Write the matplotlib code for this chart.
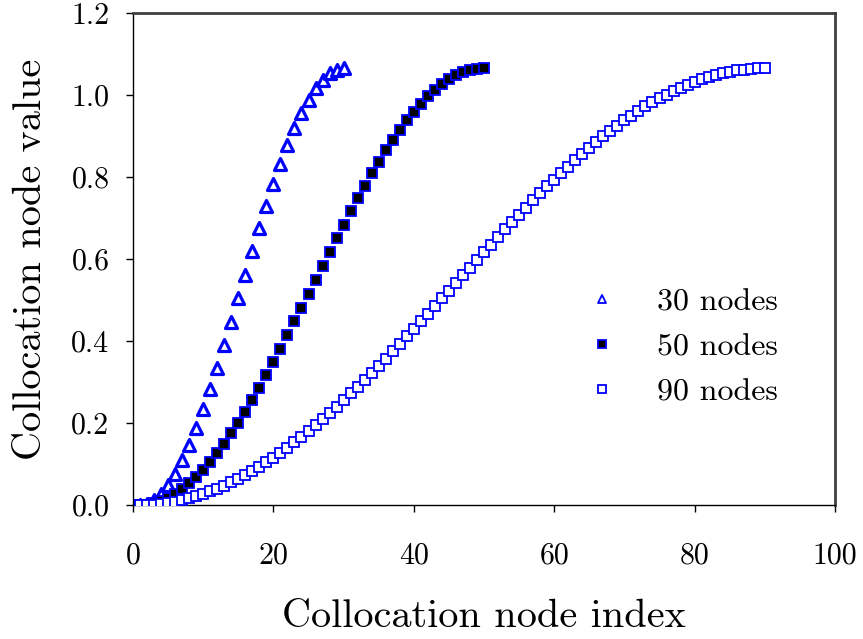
import matplotlib
matplotlib.use("Agg")
import matplotlib.pyplot as plt
from matplotlib.markers import MarkerStyle

plt.rcParams['font.family'] = ['cmr10', 'DejaVu Serif']
plt.rcParams['mathtext.fontset'] = 'cm'
plt.rcParams['axes.formatter.use_mathtext'] = True

# ---- data ----
nodes30_y = [0.000, 0.003, 0.012, 0.028, 0.049, 0.076, 0.109, 0.146, 0.188, 0.234,
             0.283, 0.335, 0.390, 0.446, 0.504, 0.561, 0.619, 0.675, 0.730, 0.782,
             0.831, 0.877, 0.919, 0.956, 0.989, 1.016, 1.037, 1.053, 1.062, 1.065]

nodes50_y = [0.000, 0.001, 0.004, 0.010, 0.017, 0.027, 0.039, 0.053, 0.069, 0.086,
             0.106, 0.127, 0.150, 0.175, 0.201, 0.228, 0.257, 0.286, 0.317, 0.349,
             0.381, 0.414, 0.448, 0.481, 0.515, 0.550, 0.584, 0.618, 0.651, 0.684,
             0.716, 0.748, 0.779, 0.809, 0.837, 0.865, 0.891, 0.915, 0.938, 0.959,
             0.979, 0.997, 1.012, 1.026, 1.038, 1.048, 1.055, 1.061, 1.064, 1.065]

nodes90_y = [0.000, 0.000, 0.001, 0.003, 0.005, 0.008, 0.012, 0.016, 0.021, 0.027,
             0.033, 0.040, 0.047, 0.055, 0.064, 0.073, 0.083, 0.093, 0.104, 0.115,
             0.127, 0.140, 0.153, 0.166, 0.180, 0.194, 0.209, 0.224, 0.240, 0.256,
             0.272, 0.288, 0.305, 0.322, 0.340, 0.357, 0.375, 0.393, 0.411, 0.430,
             0.448, 0.467, 0.486, 0.504, 0.523, 0.542, 0.561, 0.579, 0.598, 0.617,
             0.635, 0.654, 0.672, 0.690, 0.708, 0.725, 0.743, 0.760, 0.777, 0.793,
             0.810, 0.825, 0.841, 0.856, 0.871, 0.885, 0.899, 0.912, 0.925, 0.938,
             0.950, 0.961, 0.972, 0.982, 0.992, 1.001, 1.010, 1.018, 1.025, 1.032,
             1.038, 1.044, 1.049, 1.053, 1.057, 1.060, 1.062, 1.064, 1.065, 1.065]

nodes30_x = list(range(1, len(nodes30_y) + 1))
nodes50_x = list(range(1, len(nodes50_y) + 1))
nodes90_x = list(range(1, len(nodes90_y) + 1))

series_labels = ['30 nodes', '50 nodes', '90 nodes']
x_ticks = [0, 20, 40, 60, 80, 100]
y_ticks = [0.0, 0.2, 0.4, 0.6, 0.8, 1.0, 1.2]
x_label = 'Collocation node index'
y_label = 'Collocation node value'

# ---- figure ----
fig = plt.figure(figsize=(8.63, 6.39), dpi=100)
ax = fig.add_axes([133 / 863, 1 - 505 / 639, (835 - 133) / 863, (505 - 13) / 639])

blue = '#0000ff'
tri = MarkerStyle('^', joinstyle='round')
ax.plot(nodes30_x, nodes30_y, linestyle='none', marker=tri, markersize=8.5,
        markerfacecolor='white', markeredgecolor=blue, markeredgewidth=2.3,
        label=series_labels[0], zorder=3)
ax.plot(nodes50_x, nodes50_y, linestyle='none', marker='s', markersize=7.6,
        markerfacecolor='black', markeredgecolor=blue, markeredgewidth=1.3,
        label=series_labels[1], zorder=3)
ax.plot(nodes90_x, nodes90_y, linestyle='none', marker='s', markersize=7.6,
        markerfacecolor='white', markeredgecolor=blue, markeredgewidth=1.3,
        label=series_labels[2], zorder=3)

ax.set_xlim(0, 100)
ax.set_ylim(0, 1.2)
ax.set_xticks(x_ticks)
ax.set_xticklabels([str(v) for v in x_ticks])
ax.set_yticks(y_ticks)
ax.set_yticklabels(['%.1f' % v for v in y_ticks])
ax.tick_params(direction='out', length=5, width=1.0, labelsize=21.5)
ax.tick_params(axis='x', pad=22)
ax.tick_params(axis='y', pad=12)

for side in ['left', 'bottom']:
    ax.spines[side].set_linewidth(1.0)
    ax.spines[side].set_color('black')
for side in ['top', 'right']:
    ax.spines[side].set_linewidth(2.0)
    ax.spines[side].set_color('#404040')

ax.set_xlabel(x_label, fontsize=29, labelpad=21)
ax.set_ylabel(y_label, fontsize=29, labelpad=16)

leg = ax.legend(loc='upper left', bbox_to_anchor=(0.605, 0.50), frameon=False,
                fontsize=23, handlelength=1.0, handletextpad=1.22,
                labelspacing=0.52, markerscale=0.75)
for h in leg.legend_handles:
    h.set_markeredgewidth(1.3)

fig.savefig('out.png', dpi=100)
